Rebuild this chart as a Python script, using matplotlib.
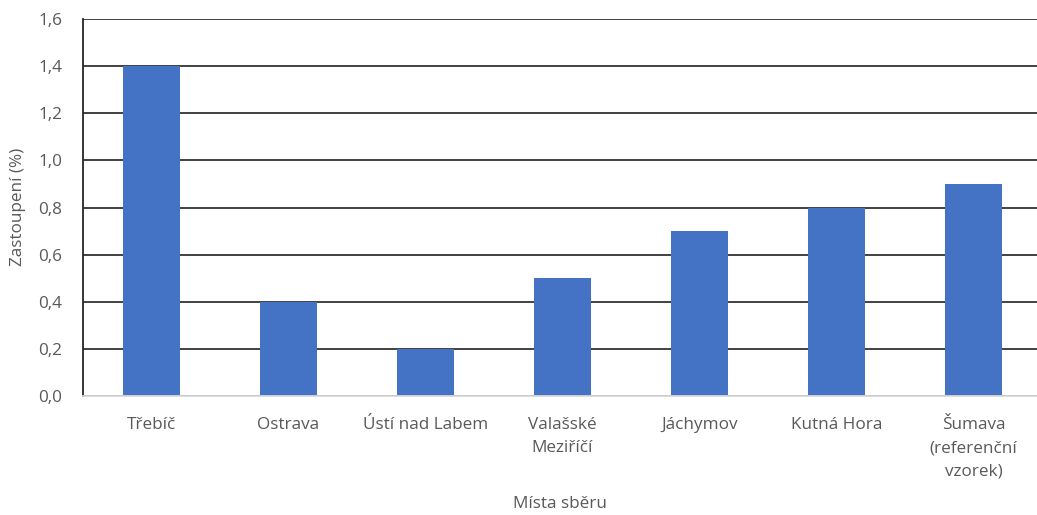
import matplotlib
matplotlib.use("Agg")
import matplotlib.pyplot as plt

categories = ["Třebíč", "Ostrava", "Ústí nad Labem", "Valašské\nMeziříčí",
              "Jáchymov", "Kutná Hora", "Šumava\n(referenční\nvzorek)"]
values = [1.4, 0.4, 0.2, 0.5, 0.7, 0.8, 0.9]
yticks = [0.0, 0.2, 0.4, 0.6, 0.8, 1.0, 1.2, 1.4, 1.6]

plt.rcParams['font.family'] = ['Open Sans', 'DejaVu Sans']
txt = '#595959'
fs = 12.3

fig = plt.figure(figsize=(10.37, 5.15), dpi=100)
W, H = 1037, 515
left, right, top, bottom = 83, 1042, 19, 396
ax = fig.add_axes([left / W, 1 - bottom / H, (right - left) / W, (bottom - top) / H])

x = list(range(len(categories)))
ax.bar(x, values, width=0.41, color='#4472C4', zorder=3)
ax.set_xlim(-0.5, len(categories) - 0.5)
ax.set_ylim(0, 1.6)
ax.set_yticks(yticks)
ax.set_yticklabels([f"{v:.1f}".replace('.', ',') for v in yticks], color=txt, fontsize=fs)
ax.set_xticks(x)
ax.set_xticklabels(categories, color=txt, fontsize=fs, linespacing=1.62, va='top')
ax.tick_params(axis='both', length=0)
ax.tick_params(axis='x', pad=15)
ax.tick_params(axis='y', pad=15)
ax.grid(axis='y', color='#333333', linewidth=1.3, zorder=0)
for s in ['top', 'right']:
    ax.spines[s].set_visible(False)
ax.spines['left'].set_color('#262626')
ax.spines['left'].set_linewidth(1.3)
ax.spines['bottom'].set_color('#D9D9D9')
ax.spines['bottom'].set_linewidth(1.3)
ax.spines['bottom'].set_zorder(4)

fig.text(560 / W, 1 - 504 / H, "Místa sběru", ha='center', va='center', color=txt, fontsize=fs)
fig.text(18 / W, 1 - 207 / H, "Zastoupení (%)", ha='center', va='center', rotation=90, color=txt, fontsize=fs)

fig.savefig("out.png", dpi=100)
